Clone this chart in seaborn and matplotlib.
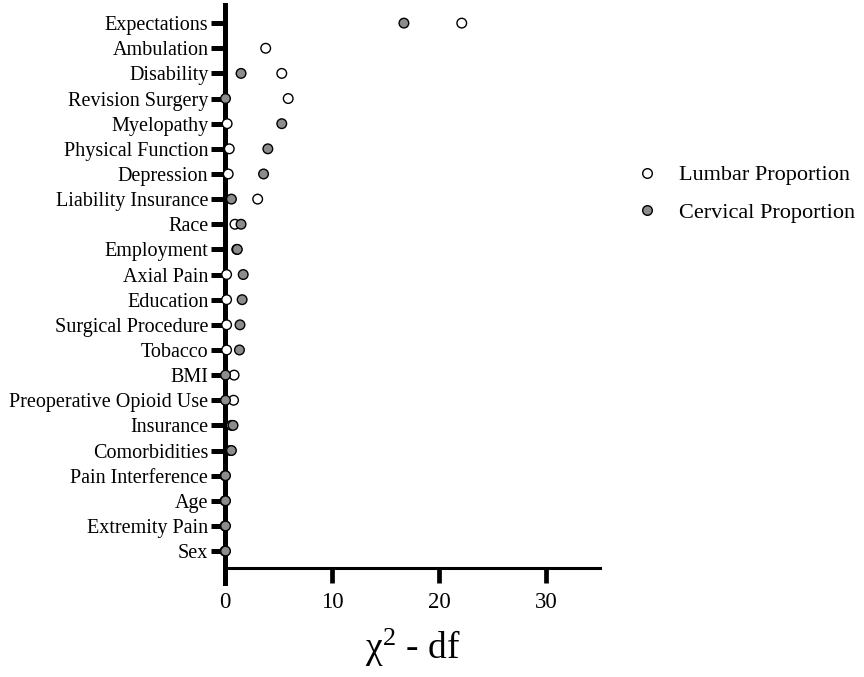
import numpy as np
import pandas as pd
import matplotlib
matplotlib.use("Agg")
import matplotlib.pyplot as plt
import seaborn as sns

# Variables, top to bottom
categories = [
    "Expectations", "Ambulation", "Disability", "Revision Surgery", "Myelopathy",
    "Physical Function", "Depression", "Liability Insurance", "Race", "Employment",
    "Axial Pain", "Education", "Surgical Procedure", "Tobacco", "BMI",
    "Preoperative Opioid Use", "Insurance", "Comorbidities", "Pain Interference",
    "Age", "Extremity Pain", "Sex",
]

# chi^2 - df values
lumbar = [22.1, 3.8, 5.3, 5.9, 0.2, 0.4, 0.3, 3.05, 0.93, 1.1,
          0.15, 0.15, 0.15, 0.15, 0.85, 0.8, 0.6, 0.5, 0.0, 0.0, 0.0, 0.0]
cervical = [16.7, np.nan, 1.5, 0.05, 5.3, 4.0, 3.6, 0.6, 1.5, 1.15,
            1.7, 1.6, 1.4, 1.35, 0.05, 0.05, 0.75, 0.6, 0.05, 0.05, 0.05, 0.05]

series_names = ["Lumbar Proportion", "Cervical Proportion"]

df = pd.concat([
    pd.DataFrame({"variable": categories, "value": lumbar, "group": series_names[0]}),
    pd.DataFrame({"variable": categories, "value": cervical, "group": series_names[1]}),
], ignore_index=True)

sns.set_theme(style="white")
plt.rcParams["font.family"] = ["Liberation Serif", "DejaVu Serif"]
plt.rcParams["mathtext.fontset"] = "custom"
plt.rcParams["mathtext.rm"] = "Liberation Serif"
plt.rcParams["mathtext.it"] = "Liberation Serif"
plt.rcParams.update({"text.color": "black", "axes.labelcolor": "black",
                     "xtick.color": "black", "ytick.color": "black"})

fig = plt.figure(figsize=(8.64, 6.77), dpi=100)
ax = fig.add_axes([0.2604, 0.1388, 0.434, 0.8538])

sns.scatterplot(
    data=df, x="value", y="variable", hue="group",
    palette={series_names[0]: "white", series_names[1]: "#8c8c8c"},
    edgecolor="black", linewidth=1.0, s=48, clip_on=False, zorder=5,
    legend=True, ax=ax,
)

ax.set_xlim(0, 35)
ax.set_ylim(22.27, -0.72)
ax.set_xticks([0, 10, 20, 30])
ax.set_ylabel("")
ax.set_xlabel(r"χ$^{2}$ - df", fontsize=27, labelpad=10)

for side in ["top", "right"]:
    ax.spines[side].set_visible(False)
ax.spines["left"].set_linewidth(3.6)
ax.spines["left"].set_color("black")
ax.spines["bottom"].set_linewidth(2.2)
ax.spines["bottom"].set_color("black")
ax.spines["bottom"].set_position(("data", 21.68))

ax.tick_params(axis="y", which="major", left=True, length=10, width=3.6,
               direction="out", pad=2, labelsize=14.5, color="black")
ax.tick_params(axis="x", which="major", bottom=True, length=11, width=3.4,
               direction="out", pad=6, labelsize=16.5, color="black")
ax.grid(False)

handles, labels = ax.get_legend_handles_labels()
ax.legend(handles, labels, loc="center left", bbox_to_anchor=(0.713, 0.7134),
          bbox_transform=fig.transFigure, frameon=False, fontsize=16,
          handlelength=1.0, handletextpad=0.95, labelspacing=0.77,
          markerscale=1.0)

fig.savefig("out.png", dpi=100)
